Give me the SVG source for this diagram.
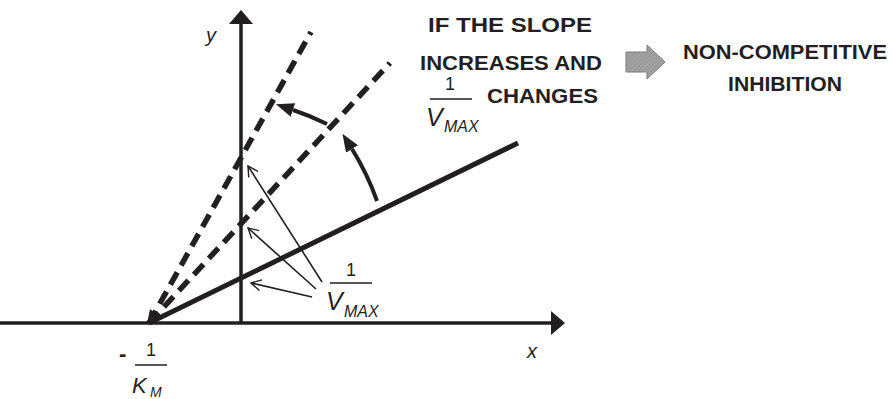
<svg xmlns="http://www.w3.org/2000/svg" width="892" height="399" viewBox="0 0 892 399">
<style>
.axis{stroke:#231f20;stroke-width:3.5;fill:none}
.solid{stroke:#231f20;stroke-width:5;fill:none}
.dash{stroke:#231f20;stroke-width:5.5;fill:none;stroke-dasharray:14 8}
.arc{stroke:#231f20;stroke-width:4;fill:none}
.thin{stroke:#231f20;stroke-width:1.6;fill:none}
.head{fill:#231f20}
.cap{font-family:"Liberation Sans",Arial,sans-serif;font-weight:bold;font-size:21px;fill:#231f20}
.m{font-family:"Liberation Sans",Arial,sans-serif;fill:#231f20}
.it{font-style:italic}
.one{font-family:"Liberation Sans",Arial,sans-serif;fill:#231f20;font-size:18px;text-anchor:middle}
.frac{stroke:#231f20;stroke-width:1.5}
</style>
<defs>
<marker id="fill" viewBox="0 0 18 14" refX="0" refY="7" markerWidth="18" markerHeight="14" markerUnits="userSpaceOnUse" orient="auto">
<path d="M0,0 L18,7 L0,14 z" fill="#231f20"/>
</marker>
<marker id="open" viewBox="0 0 12 12" refX="11" refY="6" markerWidth="12" markerHeight="12" markerUnits="userSpaceOnUse" orient="auto">
<path d="M1,0.5 L11,6 L1,11.5" fill="none" stroke="#231f20" stroke-width="1.4"/>
</marker>
<pattern id="hatch" width="3" height="3" patternUnits="userSpaceOnUse" patternTransform="rotate(45)">
<rect width="3" height="3" fill="#a3a3a3"/>
<line x1="0" y1="0" x2="0" y2="3" stroke="#888" stroke-width="1"/>
</pattern>
</defs>

<g id="axes">
<line class="axis" x1="0" y1="323" x2="552" y2="323"/>
<polygon class="head" points="551,311 565,323 551,335"/>
<line class="axis" x1="241" y1="323" x2="241" y2="23"/>
<polygon class="head" points="229,24 241,10 253,24"/>
<text class="m it" x="527" y="358" font-size="20">x</text>
<text class="m it" x="206" y="42" font-size="20">y</text>
</g>

<g id="connectors">
<line class="solid" x1="149" y1="323" x2="518" y2="143"/>
<polygon class="head" points="147,324 150,309 161,318"/>
<line class="dash" x1="149" y1="323" x2="311" y2="32"/>
<line class="dash" x1="149" y1="323" x2="390" y2="63"/>
<path class="arc" d="M377,201 A262,262 0 0 0 352,149" marker-end="url(#fill)"/>
<path class="arc" d="M327,124 A262,262 0 0 0 293,110" marker-end="url(#fill)"/>
<line class="thin" x1="322" y1="282" x2="248" y2="166" marker-end="url(#open)"/>
<line class="thin" x1="316" y1="289" x2="248" y2="228" marker-end="url(#open)"/>
<line class="thin" x1="312" y1="297" x2="251" y2="283" marker-end="url(#open)"/>
</g>

<g id="label-vmax">
<text class="one" x="351" y="276">1</text>
<line class="frac" x1="330" y1="283" x2="372" y2="283"/>
<text class="m it" x="326" y="310" font-size="25">V</text>
<text class="m it" x="344" y="317" font-size="16">MAX</text>
</g>

<g id="label-km">
<text class="m" x="119" y="361" font-size="22" font-weight="bold">-</text>
<text class="one" x="151" y="356">1</text>
<line class="frac" x1="135" y1="365" x2="167" y2="365"/>
<text class="m it" x="132" y="393" font-size="22">K</text>
<text class="m it" x="150" y="397" font-size="14">M</text>
</g>

<g id="condition">
<text class="cap" x="428" y="32" textLength="164" lengthAdjust="spacingAndGlyphs">IF THE SLOPE</text>
<text class="cap" x="420" y="70" textLength="182" lengthAdjust="spacingAndGlyphs">INCREASES AND</text>
<text class="one" x="450" y="90">1</text>
<line class="frac" x1="430" y1="99" x2="472" y2="99"/>
<text class="m it" x="426" y="126" font-size="25">V</text>
<text class="m it" x="444" y="132" font-size="16">MAX</text>
<text class="cap" x="487" y="103" textLength="111" lengthAdjust="spacingAndGlyphs">CHANGES</text>
</g>

<g id="implies-arrow">
<polygon points="626,52 647,52 647,45 665,62 647,79 647,72 626,72" fill="url(#hatch)" stroke="#7a7a7a" stroke-width="1"/>
</g>

<g id="result">
<text class="cap" x="683" y="59" textLength="204" lengthAdjust="spacingAndGlyphs">NON-COMPETITIVE</text>
<text class="cap" x="728" y="91" textLength="114" lengthAdjust="spacingAndGlyphs">INHIBITION</text>
</g>
</svg>
